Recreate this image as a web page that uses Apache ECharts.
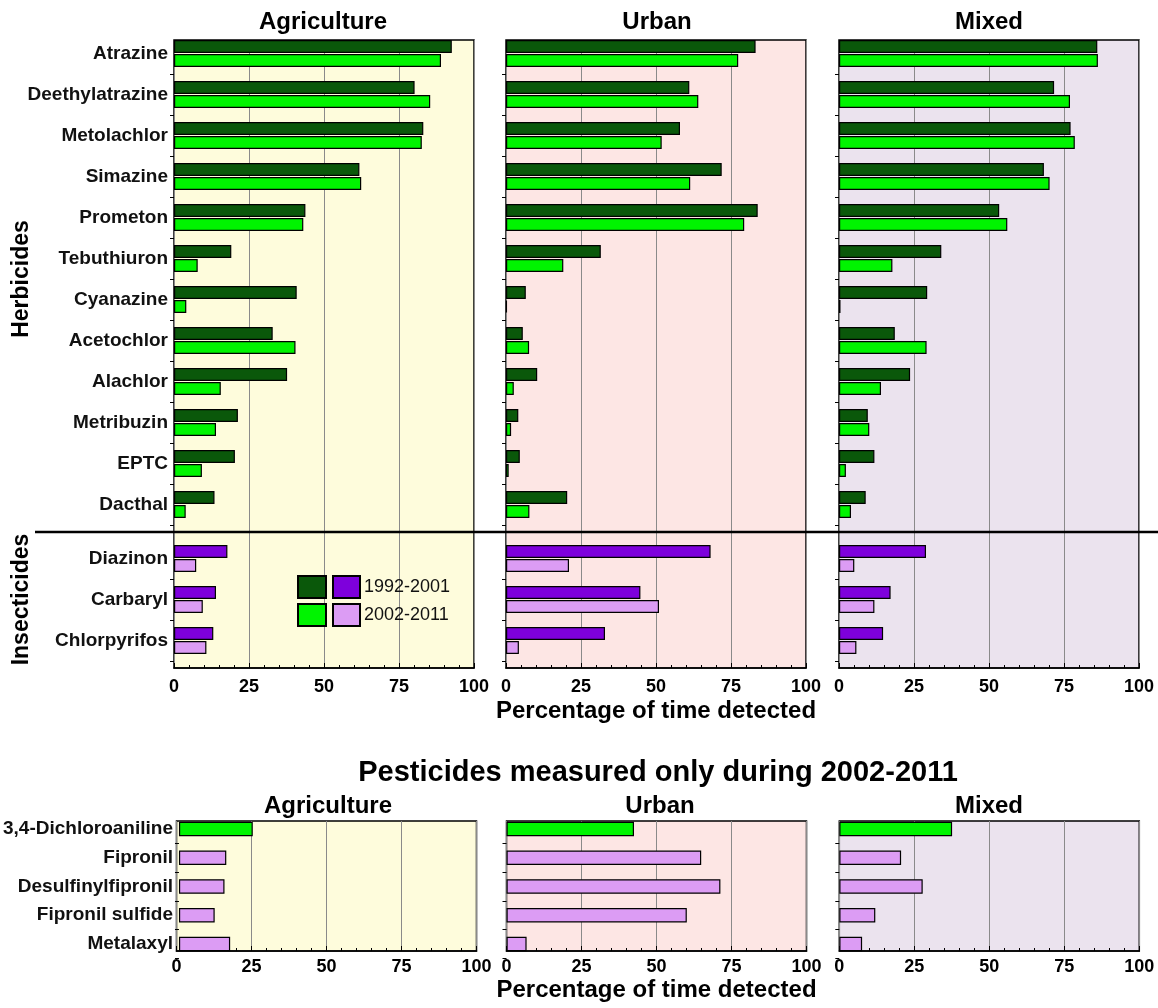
<!DOCTYPE html>
<html>
<head>
<meta charset="utf-8">
<script src="https://cdn.jsdelivr.net/npm/echarts@6/dist/echarts.min.js"></script>
<style>
  html, body { margin: 0; padding: 0; background: #ffffff; }
  #chart { width: 1158px; height: 1008px; }
</style>
</head>
<body>
<div id="chart"></div>
<script>
// ---------------- data ----------------
const herbicides = ['Atrazine', 'Deethylatrazine', 'Metolachlor', 'Simazine', 'Prometon', 'Tebuthiuron',
  'Cyanazine', 'Acetochlor', 'Alachlor', 'Metribuzin', 'EPTC', 'Dacthal'];
const insecticides = ['Diazinon', 'Carbaryl', 'Chlorpyrifos'];
const periods = ['1992-2001', '2002-2011'];
const landUses = ['Agriculture', 'Urban', 'Mixed'];

const agHerb1992 = [92.6, 80.2, 83.1, 61.8, 43.8, 19.1, 40.9, 32.9, 37.7, 21.3, 20.3, 13.5];
const agHerb2002 = [89.0, 85.4, 82.6, 62.4, 43.1, 7.9, 4.1, 40.5, 15.6, 14.0, 9.3, 3.9];
const agIns1992 = [17.8, 14.0, 13.1];
const agIns2002 = [7.4, 9.6, 10.8];

const urHerb1992 = [83.2, 61.1, 58.0, 71.9, 83.9, 31.6, 6.6, 5.6, 10.4, 4.1, 4.6, 20.4];
const urHerb2002 = [77.4, 64.1, 51.9, 61.4, 79.4, 19.1, 0.3, 7.7, 2.6, 1.7, 0.9, 7.8];
const urIns1992 = [68.2, 44.8, 33.0];
const urIns2002 = [21.0, 51.0, 4.3];

const mxHerb1992 = [86.1, 71.7, 77.2, 68.3, 53.4, 34.1, 29.4, 18.6, 23.7, 9.6, 11.8, 8.9];
const mxHerb2002 = [86.3, 77.0, 78.6, 70.2, 56.1, 17.8, 0.5, 29.2, 14.0, 10.1, 2.3, 4.0];
const mxIns1992 = [29.0, 17.2, 14.7];
const mxIns2002 = [5.1, 11.8, 5.8];

const laterPesticides = ['3,4-Dichloroaniline', 'Fipronil', 'Desulfinylfipronil', 'Fipronil sulfide', 'Metalaxyl'];
const laterGroup = ['Herbicide', 'Insecticide', 'Insecticide', 'Insecticide', 'Insecticide'];
const agLater = [24.8, 15.9, 15.3, 12.0, 17.2];
const urLater = [42.5, 64.9, 71.3, 60.1, 6.7];
const mxLater = [37.6, 20.6, 27.8, 12.0, 7.6];

// ---------------- style / layout ----------------
const FONT = '"Liberation Sans", Arial, Helvetica, sans-serif';
const C = {
  herb1: '#0a580a', herb2: '#00f400',
  ins1: '#7e00dc', ins2: '#dc9cf4'
};
const BG = ['#fefcdc', '#fde6e4', '#ebe3ee'];
const topX = [174, 506, 839];
const botX = [176.5, 506.5, 839.3];
const PW = 300;

const herbData = [[agHerb1992, agHerb2002], [urHerb1992, urHerb2002], [mxHerb1992, mxHerb2002]];
const insData = [[agIns1992, agIns2002], [urIns1992, urIns2002], [mxIns1992, mxIns2002]];
const laterData = [agLater, urLater, mxLater];

const grid = [], xAxis = [], yAxis = [], series = [];

function backdropX(gi, isUrban, labelMargin, nameGap) {
  return {
    gridIndex: gi, type: 'value', min: 0, max: 100, interval: 25,
    axisLine: { show: true, onZero: false, lineStyle: { color: '#000', width: 1.5 } },
    axisTick: { show: true, inside: true, length: 5, lineStyle: { color: '#000', width: 1 } },
    minorTick: { show: true, splitNumber: 5, length: 3, lineStyle: { color: '#000', width: 1 } },
    axisLabel: { fontFamily: FONT, fontWeight: 'bold', fontSize: 18, color: '#000', margin: labelMargin },
    splitLine: { show: true, lineStyle: { color: '#8a8a8a', width: 1 } },
    name: isUrban ? 'Percentage of time detected' : '',
    nameLocation: 'middle', nameGap: nameGap, nameMoveOverlap: false,
    nameTextStyle: { fontFamily: FONT, fontWeight: 'bold', fontSize: 24, color: '#000' }
  };
}
function hiddenX(gi) {
  return { gridIndex: gi, type: 'value', min: 0, max: 100, show: false };
}
function catY(gi, data, showLabel, name, nameGap) {
  return {
    gridIndex: gi, type: 'category', data: data, inverse: true,
    axisLine: { show: false },
    axisTick: { show: true, length: 4, interval: function (i) { return i !== 0; }, lineStyle: { color: '#000', width: 1 } },
    axisLabel: { show: showLabel, fontFamily: FONT, fontWeight: 'bold', fontSize: 19, color: '#111', margin: 6 },
    splitLine: { show: false },
    name: name || '', nameLocation: 'middle', nameRotate: 90, nameGap: nameGap || 0,
    nameMoveOverlap: false,
    nameTextStyle: { fontFamily: FONT, fontWeight: 'bold', fontSize: 23, color: '#000' }
  };
}

// top backdrops 0..2
for (let p = 0; p < 3; p++) {
  grid.push({ left: topX[p], top: 40, width: PW, height: 628, show: true, backgroundColor: BG[p], borderColor: '#000', borderWidth: 1.5 });
  xAxis.push(backdropX(grid.length - 1, p === 1, 10, 31));
  yAxis.push({ gridIndex: grid.length - 1, type: 'value', show: false });
}
// herbicide data grids 3..5
for (let p = 0; p < 3; p++) {
  grid.push({ left: topX[p], top: 33, width: PW, height: 492 });
  const gi = grid.length - 1;
  xAxis.push(hiddenX(gi));
  yAxis.push(catY(gi, herbicides, p === 0, p === 0 ? 'Herbicides' : '', 141));
  periods.forEach(function (per, k) {
    series.push({
      type: 'bar', name: 'Herbicides ' + per, xAxisIndex: gi, yAxisIndex: gi,
      data: herbData[p][k], barWidth: 13, barGap: '8%',
      itemStyle: { color: k === 0 ? C.herb1 : C.herb2, borderColor: '#000', borderWidth: 1.2 }
    });
  });
}
// insecticide data grids 6..8
for (let p = 0; p < 3; p++) {
  grid.push({ left: topX[p], top: 538, width: PW, height: 123 });
  const gi = grid.length - 1;
  xAxis.push(hiddenX(gi));
  yAxis.push(catY(gi, insecticides, p === 0, p === 0 ? 'Insecticides' : '', 141));
  periods.forEach(function (per, k) {
    series.push({
      type: 'bar', name: 'Insecticides ' + per, xAxisIndex: gi, yAxisIndex: gi,
      data: insData[p][k], barWidth: 13, barGap: '8%',
      itemStyle: { color: k === 0 ? C.ins1 : C.ins2, borderColor: '#000', borderWidth: 1.2 }
    });
  });
}
// bottom backdrops 9..11
for (let p = 0; p < 3; p++) {
  grid.push({ left: botX[p], top: 821, width: PW, height: 130, show: true, backgroundColor: BG[p], borderColor: '#000', borderWidth: 1.5 });
  xAxis.push(backdropX(grid.length - 1, p === 1, 7, 27));
  yAxis.push({ gridIndex: grid.length - 1, type: 'value', show: false });
}
// bottom data grids 12..14
for (let p = 0; p < 3; p++) {
  grid.push({ left: botX[p], top: 814.6, width: PW, height: 143.75 });
  const gi = grid.length - 1;
  xAxis.push(hiddenX(gi));
  yAxis.push(catY(gi, laterPesticides, p === 0));
  series.push({
    type: 'bar', name: 'Measured only 2002-2011', xAxisIndex: gi, yAxisIndex: gi,
    barWidth: 14.5,
    data: laterData[p].map(function (v, i) {
      return { value: v, itemStyle: { color: laterGroup[i] === 'Herbicide' ? C.herb2 : C.ins2 } };
    }),
    itemStyle: { borderColor: '#000', borderWidth: 1.2 }
  });
}

function titleAt(text, x, top, size) {
  return {
    text: text, left: x, top: top, textAlign: 'center', padding: 0,
    textStyle: { fontFamily: FONT, fontWeight: 'bold', fontSize: size, lineHeight: size, color: '#000' }
  };
}

const option = {
  backgroundColor: '#ffffff',
  animation: false,
  title: [
    titleAt(landUses[0], 323, 10, 24),
    titleAt(landUses[1], 657, 10, 24),
    titleAt(landUses[2], 989, 10, 24),
    titleAt('Pesticides measured only during 2002-2011', 658, 758.5, 29),
    titleAt(landUses[0], 328, 794, 24),
    titleAt(landUses[1], 660, 794, 24),
    titleAt(landUses[2], 989, 794, 24)
  ],
  legend: [
    {
      data: ['Herbicides 1992-2001', 'Herbicides 2002-2011'], orient: 'vertical',
      left: 297, top: 575, itemWidth: 28, itemHeight: 22, itemGap: 4, icon: 'rect',
      selectedMode: false, formatter: function () { return ''; }, padding: 0
    },
    {
      data: ['Insecticides 1992-2001', 'Insecticides 2002-2011'], orient: 'vertical',
      left: 332, top: 575, itemWidth: 27, itemHeight: 22, itemGap: 4, icon: 'rect',
      selectedMode: false, padding: 0,
      formatter: function (n) { return n.split(' ')[1]; },
      textStyle: { fontFamily: FONT, fontSize: 18, color: '#111', padding: [0, 0, 0, -1] }
    }
  ],
  grid: grid, xAxis: xAxis, yAxis: yAxis, series: series,
  graphic: [{
    type: 'line', z: 100,
    shape: { x1: 35, y1: 532, x2: 1158, y2: 532 },
    style: { stroke: '#000', lineWidth: 2.5 }
  }]
};

const chart = echarts.init(document.getElementById('chart'), null, { renderer: 'canvas' });
chart.setOption(option);
</script>
</body>
</html>
